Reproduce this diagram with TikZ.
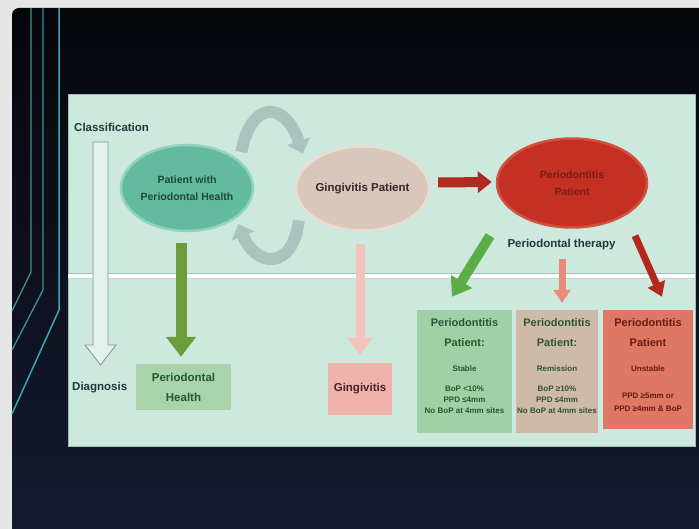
\documentclass[tikz,border=0pt]{standalone}
\usepackage{fontspec}
\setmainfont{Liberation Sans}
\usetikzlibrary{shapes.geometric, arrows.meta, calc, positioning}
\definecolor{slidegray}{HTML}{E6E6E6}
\definecolor{slidetop}{HTML}{06070B}
\definecolor{slidebot}{HTML}{161B31}
\definecolor{panelmint}{HTML}{CDE8DD}
\definecolor{panelline}{HTML}{9DBFB3}
\definecolor{decoone}{HTML}{4B8C8C}
\definecolor{decotwo}{HTML}{3E9098}
\definecolor{decothree}{HTML}{3AA3B4}
\definecolor{inktext}{HTML}{1F3A3D}
\definecolor{hollowfill}{HTML}{E2F1EC}
\definecolor{hollowline}{HTML}{7F9692}
\definecolor{healthfill}{HTML}{62BA9F}
\definecolor{healthrim}{HTML}{93D2BE}
\definecolor{healthink}{HTML}{1D4A33}
\definecolor{gingfill}{HTML}{D9C7B9}
\definecolor{gingrim}{HTML}{E9DDD3}
\definecolor{gingink}{HTML}{2E2B2A}
\definecolor{periofill}{HTML}{C43124}
\definecolor{periorim}{HTML}{D4503F}
\definecolor{perioink}{HTML}{7A1A12}
\definecolor{loopgray}{HTML}{A7C4BE}
\definecolor{redarrow}{HTML}{B22A1F}
\definecolor{healthgreen}{HTML}{6B9E3A}
\definecolor{phfill}{HTML}{A9D4AB}
\definecolor{phink}{HTML}{1F5C2A}
\definecolor{pinkarrow}{HTML}{F5C3BA}
\definecolor{gingboxfill}{HTML}{EFB3AA}
\definecolor{gingboxink}{HTML}{4A2222}
\definecolor{stablegreen}{HTML}{5BAE45}
\definecolor{stablefill}{HTML}{9FD1A5}
\definecolor{stableink}{HTML}{1F5A35}
\definecolor{remisarrow}{HTML}{E78C7A}
\definecolor{remisfill}{HTML}{CFBAA9}
\definecolor{remisink}{HTML}{2D5636}
\definecolor{unstablearrow}{HTML}{B3271D}
\definecolor{unstablefill}{HTML}{DE7864}
\definecolor{unstableink}{HTML}{6A1A10}
\newcommand{\casehead}{\fontsize{11}{13}\selectfont}
\tikzset{
  lbl/.style={inner sep=0pt, text=inktext, font=\bfseries\fontsize{11.5}{13}\selectfont},
  blob/.style={ellipse, inner sep=0pt, line width=2.5pt, align=center, font=\bfseries\fontsize{10.5}{17}\selectfont},
  card/.style={rectangle, inner sep=0pt, align=center, font=\bfseries\fontsize{11.5}{20}\selectfont},
  casebox/.style={rectangle, inner sep=0pt, minimum height=123pt},
  casetext/.style={inner sep=0pt, align=center, font=\bfseries\fontsize{8}{11}\selectfont},
  fatarrow/.style n args={4}{draw=#1, line width=#2, -{Triangle[width=#3,length=#4]}},
}
\begin{document}
\begin{tikzpicture}[x=1pt, y=-1pt]
\useasboundingbox (0,0) rectangle (699,529);
\fill[slidegray] (0,0) rectangle (699,529);
\shade[top color=slidetop, bottom color=slidebot, rounded corners=7pt] (12,8) rectangle (720,550);
\draw[decoone, line width=1.3pt] (31,8) -- (31,272) -- (12,311);
\draw[decotwo, line width=1.3pt] (43,8) -- (43,290) -- (12,350);
\draw[decothree, line width=1.5pt] (59,8) -- (59,310) -- (12,414);
\fill[panelmint] (68,94) rectangle (695,446);
\draw[panelline, line width=0.8pt] (68,94) rectangle (695,446);
\fill[white] (68,274) rectangle (695,278);
\draw[panelline, line width=0.8pt] (68,273.5) -- (695,273.5);
\draw[panelline!60, line width=0.6pt] (68,278.5) -- (695,278.5);
\filldraw[fill=hollowfill, draw=hollowline, line width=0.8pt] (93,142) -- (108,142) -- (108,345) -- (116,345) -- (100.5,365) -- (85,345) -- (93,345) -- cycle;

\node[lbl, anchor=west] (classif) at (74,127) {Classification};
\node[lbl, anchor=west] (diag) at (72,388) {Diagnosis};
\node[blob, minimum width=132pt, minimum height=86pt, fill=healthfill, draw=healthrim, text=healthink] (health) at (187,188) {Patient with\\Periodontal Health};
\node[blob, minimum width=125pt, minimum height=84pt, fill=gingfill, draw=gingrim, text=gingink, font=\bfseries\fontsize{11.5}{13}\selectfont] (ging) at (362.5,188.5) {Gingivitis Patient};
\node[blob, minimum width=150pt, minimum height=89pt, fill=periofill, draw=periorim, text=perioink] (perio) at (572,183) {Periodontitis\\Patient};
\node[lbl] (therapy) at (561.5,245) {Periodontal therapy};

\node[card, minimum width=95pt, minimum height=46pt, fill=phfill, text=phink] (phbox) at (183.5,387) {Periodontal\\Health};
\node[card, minimum width=64pt, minimum height=52pt, fill=gingboxfill, text=gingboxink] (gingbox) at (360,389) {Gingivitis};
\node[casebox, minimum width=95pt, fill=stablefill] (stable) at (464.5,371.5) {};
\node[casebox, minimum width=82pt, fill=remisfill] (remis) at (557,371.5) {};
\node[casebox, minimum width=90pt, minimum height=119pt, fill=unstablefill] (unstable) at (648,369.5) {};
\node[casetext, text=stableink, below=9pt of stable.north] (stabletxt) {\casehead Periodontitis\\[9pt]\casehead Patient:\\[14pt]Stable\\[9pt]BoP <10\%\\PPD ≤4mm\\No BoP at 4mm sites};
\node[casetext, text=remisink, below=9pt of remis.north] (remistxt) {\casehead Periodontitis\\[9pt]\casehead Patient:\\[14pt]Remission\\[9pt]BoP ≥10\%\\PPD ≤4mm\\No BoP at 4mm sites};
\node[casetext, text=unstableink, below=9pt of unstable.north] (unstabletxt) {\casehead Periodontitis\\[9pt]\casehead Patient\\[14pt]Unstable\\[16pt]PPD ≥5mm or\\[2pt]PPD ≥4mm \& BoP};

\draw[fatarrow={loopgray}{12pt}{24pt}{13pt}] ($(health.east)+(-13,-36)$) .. controls +(10,-52) and +(-18,-53) .. ($(ging.west)+(8,-35)$);
\draw[fatarrow={loopgray}{12pt}{24pt}{13pt}] ($(ging.west)+(4,32)$) .. controls +(-6,50) and +(18,44) .. ($(health.east)+(-16,36)$);
\draw[fatarrow={redarrow}{10pt}{21pt}{14pt}] ($(ging.east)+(8,-6)$) -- ($(perio.west)+(-4,-1)$);
\draw[fatarrow={healthgreen}{11pt}{29pt}{20pt}] ($(health.south)+(-6,11)$) -- ($(phbox.north)+(-2.5,-7)$);
\draw[fatarrow={pinkarrow}{9pt}{24pt}{17pt}] ($(ging.south)+(-2.5,12)$) -- ($(gingbox.north)+(0,-8)$);
\draw[fatarrow={stablegreen}{10pt}{24pt}{18pt}] ($(perio.south)+(-82,7)$) -- ($(stable.north)+(-12.5,-13)$);
\draw[fatarrow={remisarrow}{7pt}{17pt}{13pt}] ($(perio.south)+(-10,30)$) -- ($(remis.north)+(5,-7)$);
\draw[fatarrow={unstablearrow}{7pt}{18pt}{14pt}] ($(perio.south)+(63,7)$) -- ($(unstable.north)+(14,-13)$);
\end{tikzpicture}
\end{document}
